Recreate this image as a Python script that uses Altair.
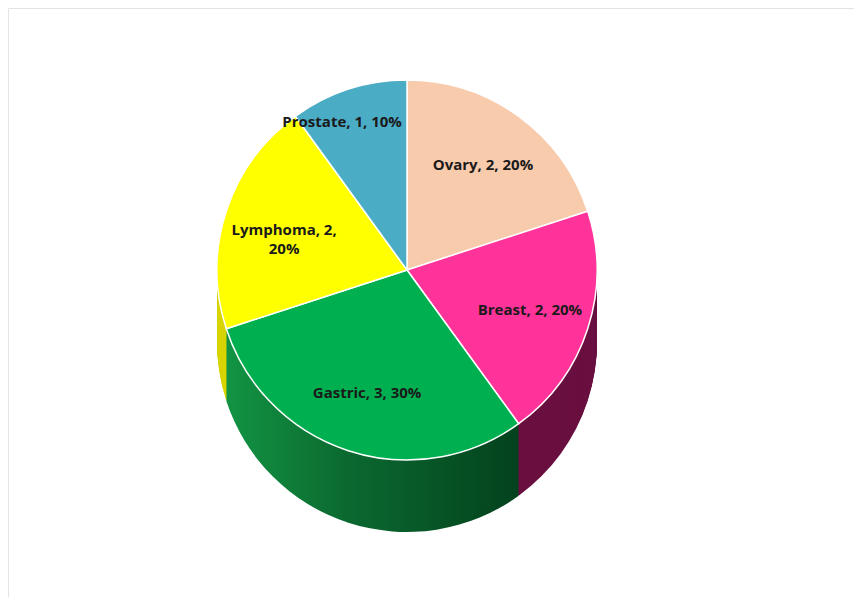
import altair as alt
import pandas as pd

categories = ["Ovary", "Breast", "Gastric", "Lymphoma", "Prostate"]
counts = [2, 2, 3, 2, 1]
labels = ["Ovary, 2, 20%", "Breast, 2, 20%", "Gastric, 3, 30%", "Lymphoma, 2,|20%", "Prostate, 1, 10%"]
top_colors = ["#F8CBAD", "#FF3399", "#00B050", "#FFFF00", "#4BACC6"]
side_colors = ["#C9A08A", "#6A1040", "#0A5C2A", "#D8D400", "#2E7F96"]

df = pd.DataFrame({
    "category": categories,
    "count": counts,
    "label": labels,
    "top": top_colors,
    "side": side_colors,
    "order": list(range(len(categories))),
})

CX, CY, R, DEPTH = 399, 262, 190, 72

gastric_side = {
    "gradient": "linear", "x1": 0, "y1": 0, "x2": 1, "y2": 0,
    "stops": [
        {"offset": 0.0, "color": "#129443"},
        {"offset": 0.4, "color": "#0B6A30"},
        {"offset": 1.0, "color": "#03421D"},
    ],
}
side_color = {
    "condition": [
        {"test": "datum.category === 'Gastric'", "value": gastric_side},
    ],
    "field": "side", "type": "nominal", "scale": None,
}

base = alt.Chart(df)
theta = alt.Theta("count:Q", stack=True)
order = alt.Order("order:Q")

layers = []
for k in range(DEPTH, 0, -1):
    layers.append(
        base.mark_arc(radius=R).encode(
            theta=theta, order=order,
            color=side_color,
            x=alt.value(CX), y=alt.value(CY + k),
        )
    )

top = base.mark_arc(radius=R, stroke="white", strokeWidth=1.5).encode(
    theta=theta, order=order,
    color=alt.Color("top:N", scale=None),
    x=alt.value(CX), y=alt.value(CY),
)

text_style = dict(fontSize=15, fontWeight="bold", font="Open Sans",
                  lineBreak="|", lineHeight=19, color="#1a1a1a", baseline="middle")

text_main = base.mark_text(radius=R * 0.68, align="center", **text_style).encode(
    theta=theta, order=order,
    text=alt.condition(alt.datum.category != "Prostate", alt.Text("label:N"), alt.value("")),
    x=alt.value(CX), y=alt.value(CY),
)

text_prostate = base.mark_text(radius=R * 0.82, align="right", dx=43, **text_style).encode(
    theta=theta, order=order,
    text=alt.condition(alt.datum.category == "Prostate", alt.Text("label:N"), alt.value("")),
    x=alt.value(CX), y=alt.value(CY),
)

chart = alt.layer(*layers, top, text_main, text_prostate).properties(
    width=846, height=589, padding=0, background="white"
).configure_view(stroke="#e3e3e3")

chart.save("out.html", embed_options={"renderer": "svg", "actions": False})
